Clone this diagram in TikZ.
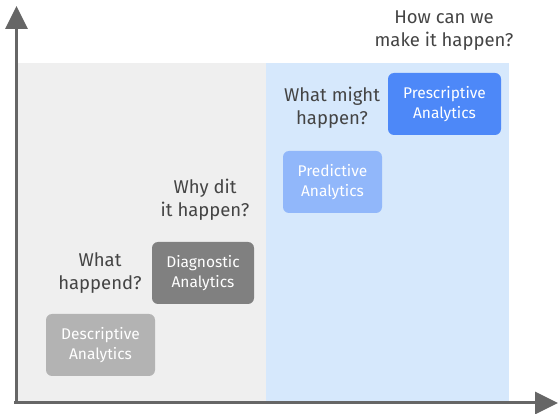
\documentclass[tikz,border=0pt]{standalone}
\usepackage{fontspec}
\setmainfont{Fira Sans}
\usetikzlibrary{arrows.meta}
\definecolor{axisgray}{HTML}{666666}
\definecolor{regiongray}{HTML}{EFEFEF}
\definecolor{regionblue}{HTML}{D6E8FC}
\definecolor{descgray}{HTML}{B3B3B3}
\definecolor{diaggray}{HTML}{808080}
\definecolor{predblue}{HTML}{91B7FA}
\definecolor{presblue}{HTML}{4D88F8}
\definecolor{qtext}{HTML}{444444}
\tikzset{
  box/.style={rounded corners=6pt, text=white, align=center, inner sep=0pt,
    minimum height=62pt, font=\fontsize{15.5}{20}\selectfont},
  question/.style={text=qtext, align=center, inner sep=0pt,
    font=\fontsize{18.5}{23}\selectfont},
  axis/.style={draw=axisgray, line width=3pt,
    -{Triangle[length=23pt,width=22pt]}},
}
\begin{document}
\begin{tikzpicture}[x=1pt,y=-1pt]
\useasboundingbox (0,0) rectangle (558,414);
\fill[regiongray] (18,63) rectangle (266,401);
\fill[regionblue] (266,63) rectangle (509,401);
\coordinate (o1) at (16.5,403);
\coordinate (ytip) at (16.5,6);
\coordinate (o2) at (14,403);
\coordinate (xtip) at (558,403);
\draw[axis] (o1) -- (ytip);
\draw[axis] (o2) -- (xtip);
\node[box, fill=descgray, minimum width=109pt] (desc) at (100.5,345) {Descriptive\\Analytics};
\node[box, fill=diaggray, minimum width=102pt] (diag) at (203,273) {Diagnostic\\Analytics};
\node[box, fill=predblue, minimum width=99pt] (pred) at (332.5,182) {Predictive\\Analytics};
\node[box, fill=presblue, minimum width=113pt] (pres) at (444.5,104) {Prescriptive\\Analytics};
\node[question] (q1) at (100,273) {What\\happend?};
\node[question] (q2) at (205,199.5) {Why dit\\it happen?};
\node[question] (q3) at (332,107.5) {What might\\happen?};
\node[question] (q4) at (444,30.5) {How can we\\make it happen?};
\end{tikzpicture}
\end{document}
